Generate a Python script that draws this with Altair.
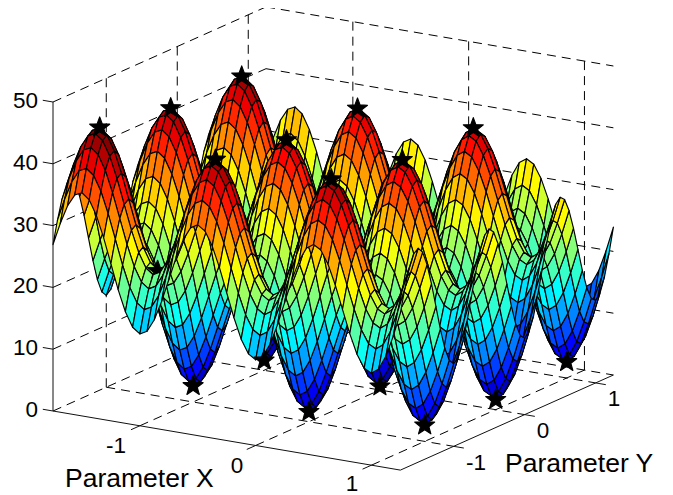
import math
import altair as alt

# axis tick values and texts
x_ticks = [-1, 0, 1]
y_ticks = [-1, 0, 1]
z_ticks = [0, 10, 20, 30, 40, 50]

# height profile along one parameter, grid of 49 points from -1.75 to 1.25
profile = [13.06, 16.67, 19.71, 21.68, 22.25, 21.31, 18.96, 15.55, 11.56, 7.58,
           4.19, 1.89, 1.00, 1.64, 3.69, 6.83, 10.56, 14.30, 17.46, 19.56,
           20.25, 19.43, 17.21, 13.92, 10.06, 6.21, 2.94, 0.77, 0.00, 0.77,
           2.94, 6.21, 10.06, 13.92, 17.21, 19.43, 20.25, 19.56, 17.46, 14.30,
           10.56, 6.83, 3.69, 1.64, 1.00, 1.89, 4.19, 7.58, 11.56]
grid = [round(-1.75 + 0.0625 * k, 4) for k in range(len(profile))]

# stars: marked points (x, y, z)
stars_sorted = [(-0.5, -1.5, 43.4), (-0.5, -0.5, 41.4), (-0.5, 0.5, 41.4),
                (0.5, -1.5, 43.4), (0.5, -0.5, 41.4), (0.5, 0.5, 41.4),
                (-1, -1.5, 23.8), (-1, 1, 2.6), (0, 1, 1.6)]
stars_top = [(-1.5, -1.5, 45.4), (-1.5, -0.5, 43.4), (-1.5, 0.5, 43.4),
             (-1, -1, 2.6), (0, -1, 1.6), (1, -1, 2.6), (-1, 0, 1.6), (0, 0, 0.6), (1, 0, 1.6), (1, 1, 2.6)]

# view: page pixels of the box corner and the per-unit vectors
OX, OY = 53 - 8, 411 - 8
XV = (115.8, 19.7)
YV = (71.0, -31.7)
ZS = 6.18
Z_SHIFT = 0.8
XMIN, XMAX = -1.75, 1.25
YMIN, YMAX = -1.75, 1.25


def proj(x, y, z):
    a, b = x - XMIN, y - YMIN
    return [round(OX + a * XV[0] + b * YV[0], 2), round(OY + a * XV[1] + b * YV[1] - z * ZS, 2)]


def height(i, j):
    return profile[i] + profile[j] + Z_SHIFT


def line(p, q):
    return {"type": "Feature", "geometry": {"type": "LineString", "coordinates": [proj(*p), proj(*q)]},
            "properties": {}}


# box grid
dashed = [line((XMIN, YMIN, 0), (XMIN, YMAX, 0)), line((XMIN, YMAX, 0), (XMAX, YMAX, 0))]
for t in y_ticks:
    dashed.append(line((XMIN, t, 0), (XMAX, t, 0)))
    dashed.append(line((XMIN, t, 0), (XMIN, t, 50)))
for t in x_ticks:
    dashed.append(line((t, YMIN, 0), (t, YMAX, 0)))
    dashed.append(line((t, YMAX, 0), (t, YMAX, 50)))
for z in z_ticks[1:]:
    dashed.append(line((XMIN, YMIN, z), (XMIN, YMAX, z)))
    dashed.append(line((XMIN, YMAX, z), (XMAX, YMAX, z)))

# axes and ticks
TL = 0.088
solid = [line((XMIN, YMIN, 0), (XMAX, YMIN, 0)), line((XMAX, YMIN, 0), (XMAX, YMAX, 0)),
         line((XMIN, YMIN, 0), (XMIN, YMIN, 50))]
for t in x_ticks:
    solid.append(line((t, YMIN, 0), (t, YMIN - 0.125, 0)))
for t in y_ticks:
    solid.append(line((XMAX, t, 0), (XMAX + TL, t, 0)))
for z in z_ticks:
    solid.append(line((XMIN, YMIN, z), (XMIN - TL, YMIN, z)))


def star(x, y, z):
    cx, cy = proj(x, y, z)
    pts = []
    for k in range(10):
        r = 10.5 if k % 2 == 0 else 4.4
        a = -math.pi / 2 + k * math.pi / 5
        pts.append([round(cx + r * math.cos(a), 2), round(cy + r * math.sin(a), 2)])
    pts.append(pts[0])
    return {"type": "Feature", "geometry": {"type": "Polygon", "coordinates": [pts]},
            "properties": {"kind": "star", "c": 0}}


def nearest(v):
    return min(range(len(grid)), key=lambda k: abs(grid[k] - v))


inline = {}
for (sx, sy, sz) in stars_sorted:
    inline[(nearest(sx), nearest(sy))] = star(sx, sy, sz)

faces = []
n = len(grid)
for i in range(n - 1):
    for j in range(n - 2, -1, -1):
        ring = [proj(grid[i], grid[j], height(i, j)), proj(grid[i + 1], grid[j], height(i + 1, j)),
                proj(grid[i + 1], grid[j + 1], height(i + 1, j + 1)), proj(grid[i], grid[j + 1], height(i, j + 1))]
        ring.append(ring[0])
        faces.append({"type": "Feature", "geometry": {"type": "Polygon", "coordinates": [ring]},
                      "properties": {"kind": "face", "c": round(height(i, j), 2)}})
        if (i, j + 1) in inline:
            faces.append(inline[(i, j + 1)])
for (sx, sy, sz) in stars_top:
    faces.append(star(sx, sy, sz))

zlo, zhi = 1.5, 44.0
stops = [0, 0.111, 0.365, 0.619, 0.873, 1]
jet = ["#000090", "#0000ff", "#00ffff", "#ffff00", "#ff0000", "#800000"]
jet_scale = alt.Scale(domain=[zlo + s * (zhi - zlo) for s in stops], range=jet, clamp=True, interpolate="rgb")

P = dict(type="identity", scale=1, translate=[0, 0])

grid_layer = (alt.Chart(alt.Data(values=dashed)).mark_geoshape(filled=False, stroke="#000", strokeWidth=1.0,
                                                               strokeDash=[9, 6]).project(**P))
surface = (alt.Chart(alt.Data(values=faces)).mark_geoshape(stroke="#000", strokeWidth=1.15, strokeJoin="round",
                                                           strokeOpacity=1, opacity=1)
           .encode(color=alt.condition("datum.properties.kind == 'star'", alt.value("#000000"),
                                       alt.Color("properties.c:Q", scale=jet_scale, legend=None)))
           .project(**P))
axes_layer = (alt.Chart(alt.Data(values=solid)).mark_geoshape(filled=False, stroke="#111", strokeWidth=1.0).project(**P))

# text labels: (text, page x, page y)
tick_text = ["50", "40", "30", "20", "10", "0"]
tick_y = [101, 163, 225, 286, 348, 410]
z_rows = [{"t": t, "x": 38 - 8, "y": y - 8} for t, y in zip(tick_text, tick_y)]
ctr_rows = [{"t": "-1", "x": 116 - 8, "y": 446 - 8}, {"t": "0", "x": 237 - 8, "y": 466 - 8},
            {"t": "1", "x": 352 - 8, "y": 484 - 8}, {"t": "-1", "x": 476 - 8, "y": 463 - 8},
            {"t": "0", "x": 543 - 8, "y": 431 - 8}, {"t": "1", "x": 614 - 8, "y": 399 - 8}]
title_rows = [{"t": "Parameter X", "x": 65 - 8, "y": 487 - 8}, {"t": "Parameter Y", "x": 505 - 8, "y": 472 - 8}]
FONT = "Liberation Sans"


def texts(rows, size, align, baseline):
    return alt.Chart(alt.Data(values=rows)).mark_text(font=FONT, fontSize=size, align=align, baseline=baseline,
                                                      color="#000").encode(
        x=alt.X("x:Q", scale=None, axis=None), y=alt.Y("y:Q", scale=None, axis=None), text="t:N")


chart = alt.layer(grid_layer, surface, axes_layer,
                  texts(z_rows, 22.5, "right", "middle"),
                  texts(ctr_rows, 22.5, "center", "middle"),
                  texts(title_rows, 26.5, "left", "alphabetic")).properties(
    width=657, height=487, padding=0, autosize="none", background="white").configure_view(stroke=None)

chart.save("out.html", embed_options={"renderer": "svg", "actions": False})
